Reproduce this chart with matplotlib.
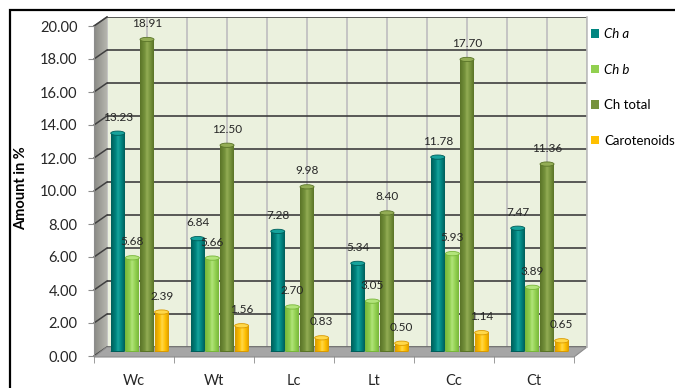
import numpy as np
import matplotlib
matplotlib.use("Agg")
import matplotlib.pyplot as plt
from matplotlib.colors import LinearSegmentedColormap
from matplotlib.patches import Rectangle, Ellipse, Polygon, Patch

# ---- data ----
categories = ["Wc", "Wt", "Lc", "Lt", "Cc", "Ct"]
series_names = ["Ch a", "Ch b", "Ch total", "Carotenoids"]
ch_a = [13.23, 6.84, 7.28, 5.34, 11.78, 7.47]
ch_b = [5.68, 5.66, 2.70, 3.05, 5.93, 3.89]
ch_total = [18.91, 12.50, 9.98, 8.40, 17.70, 11.36]
carotenoids = [2.39, 1.56, 0.83, 0.50, 1.14, 0.65]
y_ticks = [0, 2, 4, 6, 8, 10, 12, 14, 16, 18, 20]

# ---- styles ----
# (dark edge, base, highlight) for the cylinder shading
SHADES = [
    ("#005e5a", "#008580", "#16a39c"),
    ("#78b63a", "#92d050", "#b2e47a"),
    ("#5a7428", "#76923c", "#93ad55"),
    ("#d99a00", "#ffc000", "#ffd84a"),
]
W, H = 675, 388
plt.rcParams["font.family"] = ["Lato", "DejaVu Sans"]


def rect_px(x0, x1, ytop, ybot):
    """pixel box (from top-left) -> figure fraction rect"""
    return [x0 / W, 1 - ybot / H, (x1 - x0) / W, (ybot - ytop) / H]


# front / middle / back planes of the fake 3d box
FRONT = (94, 574, 26, 356)
DX, DY = 13, -9
MID = (FRONT[0] + DX / 2, FRONT[1] + DX / 2, FRONT[2] + DY / 2, FRONT[3] + DY / 2)
BACK = (FRONT[0] + DX, FRONT[1] + DX, FRONT[2] + DY, FRONT[3] + DY)
XLIM = (-0.5, len(categories) - 0.5)
YLIM = (0, 20)

fig = plt.figure(figsize=(W / 100, H / 100), dpi=100)
fig.patch.set_facecolor("white")

# back wall with grid
ax_back = fig.add_axes(rect_px(*BACK), zorder=0)
ax_back.set_facecolor("#ebf1de")
ax_back.set_xlim(XLIM); ax_back.set_ylim(YLIM)
for v in np.arange(XLIM[0], XLIM[1] + 0.01, 0.5):
    ax_back.axvline(v, color="#c4c4c4", lw=1.4, zorder=1)
for v in y_ticks:
    ax_back.axhline(v, color="#3f3f3f", lw=1.2, zorder=2)
ax_back.set_xticks([]); ax_back.set_yticks([])
for s in ax_back.spines.values():
    s.set_visible(False)

# pixel-space overlay for the side wall, floor and outer border
deco = fig.add_axes([0, 0, 1, 1], zorder=1)
deco.set_xlim(0, W); deco.set_ylim(H, 0)
deco.axis("off")
deco.patch.set_alpha(0)

fx0, fx1, fyt, fyb = FRONT
bx0, bx1, byt, byb = BACK
wall = Polygon([(fx0, fyt), (bx0, byt), (bx0, byb), (fx0, fyb)], closed=True,
               facecolor="none", edgecolor="none")
deco.add_patch(wall)
wall_cmap = LinearSegmentedColormap.from_list("wall", ["#8a8a85", "#b5b5ae"])
im = deco.imshow(np.linspace(0, 1, 50)[None, :], extent=[fx0, bx0, fyb, byt - 1],
                 cmap=wall_cmap, aspect="auto", zorder=1)
im.set_clip_path(wall)
deco.plot([fx0, bx0], [fyt, byt], color="#7f7f7f", lw=1, zorder=2)
for v in y_ticks:
    yf = fyb - (fyb - fyt) * v / 20
    yb = byb - (byb - byt) * v / 20
    deco.plot([fx0, bx0], [yf, yb], color="#3f3f3f", lw=1.1, zorder=2)

floor = Polygon([(fx0, fyb + 1), (fx1, fyb + 1), (bx1, byb), (bx0, byb)], closed=True,
                facecolor="#a6a6a6", edgecolor="#8c8c8c", lw=0.8, zorder=2)
deco.add_patch(floor)
deco.plot([bx1, bx1], [byt, byb], color="#bdbdbd", lw=1.2, zorder=2)

# outer chart border (cropped on the right and bottom)
deco.plot([10, 10, W], [H, 10, 10], color="black", lw=1.6, zorder=5,
          solid_joinstyle="miter")

# bars (cylinders) on the middle plane
ax_mid = fig.add_axes(rect_px(*MID), zorder=2)
ax_mid.patch.set_alpha(0)
for s in ax_mid.spines.values():
    s.set_visible(False)
ax_mid.set_xticks([]); ax_mid.set_yticks([])

all_series = [ch_a, ch_b, ch_total, carotenoids]
bar_w = 0.175
step = 0.183
cap_h = 0.26
grad = np.linspace(0, 1, 64)[None, :]
for i, (vals, (dark, base, light)) in enumerate(zip(all_series, SHADES)):
    cmap = LinearSegmentedColormap.from_list(
        f"cyl{i}", [(0, dark), (0.35, base), (0.5, light), (0.75, base), (1, dark)])
    for j, v in enumerate(vals):
        xc = j + (i - 1.5) * step - 0.01
        x0 = xc - bar_w / 2
        ax_mid.add_patch(Ellipse((xc, 0), bar_w, cap_h, facecolor=dark,
                                 edgecolor="none", zorder=2))
        body = Rectangle((x0, 0), bar_w, v, transform=ax_mid.transData)
        img = ax_mid.imshow(grad, extent=[x0, x0 + bar_w, 0, v], cmap=cmap,
                            aspect="auto", zorder=3)
        img.set_clip_path(body)
        ax_mid.add_patch(Ellipse((xc, v), bar_w, cap_h, facecolor=light,
                                 edgecolor=dark, lw=0.6, zorder=4))
        ax_mid.annotate(f"{v:.2f}", (xc, v), xytext=(0, 16), textcoords="offset pixels",
                        ha="center", va="center", fontsize=8.5, color="#262626", zorder=5)
ax_mid.set_xlim(XLIM); ax_mid.set_ylim(YLIM)

# front plane: ticks, tick labels, axis title
ax = fig.add_axes(rect_px(*FRONT), zorder=3)
ax.patch.set_alpha(0)
ax.set_xlim(XLIM); ax.set_ylim(YLIM)
for s in ["top", "right", "bottom"]:
    ax.spines[s].set_visible(False)
ax.spines["left"].set_color("#8c8c8c")
ax.set_yticks(y_ticks)
ax.set_yticklabels([f"{v:.2f}" for v in y_ticks])
ax.tick_params(axis="y", length=4, color="#8c8c8c", pad=8, labelsize=10.5,
               labelcolor="#262626")
ax.set_xticks(range(len(categories)))
ax.set_xticklabels(categories)
ax.set_xticks(np.arange(-0.5, len(categories), 1), minor=True)
ax.tick_params(axis="x", which="major", length=0, pad=13, labelsize=10.5,
               labelcolor="#262626")
ax.tick_params(axis="x", which="minor", length=5, color="#8c8c8c")
ax.set_ylabel("Amount in %", fontsize=10.5, fontweight="bold", color="black")
ax.yaxis.set_label_coords((28 - fx0) / (fx1 - fx0), 0.51)

handles = [Patch(facecolor=base, edgecolor="none") for _, base, _ in SHADES]
leg = fig.legend(handles, series_names, loc="upper left",
                 bbox_to_anchor=(586 / W, 1 - 23 / H), frameon=False, fontsize=9.5,
                 handlelength=0.6, handleheight=0.6, handletextpad=0.4,
                 labelspacing=1.78, borderaxespad=0)
for t in leg.get_texts()[:2]:
    t.set_fontstyle("italic")

fig.savefig("out.png", dpi=100, facecolor="white")
